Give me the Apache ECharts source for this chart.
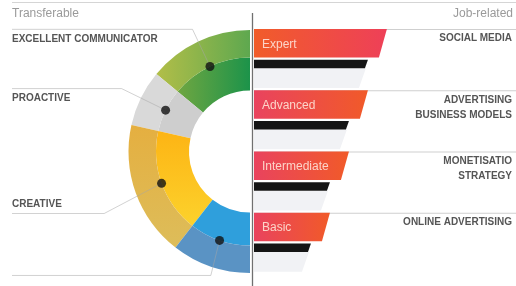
<!DOCTYPE html>
<html>
<head>
<meta charset="utf-8">
<script src="https://cdn.jsdelivr.net/npm/echarts@6/dist/echarts.min.js"></script>
<style>
  html, body { margin: 0; padding: 0; background: #fff; }
  #main { width: 516px; height: 286px; }
</style>
</head>
<body>
<div id="main"></div>
<script>
// 左侧：可迁移技能（半环）
var transferNames = ['EXCELLENT COMMUNICATOR', 'PROACTIVE', 'CREATIVE', ''];
var transferValues = [28, 15, 36, 21];

// 右侧：岗位技能等级
var levelNames = ['Expert', 'Advanced', 'Intermediate', 'Basic'];
var levelValues = [7, 6, 5, 4];
var shadowValues = [6, 5, 4, 3];
var jobNames = ['SOCIAL MEDIA', 'ADVERTISING\nBUSINESS MODELS', 'MONETISATIO\nSTRATEGY', 'ONLINE ADVERTISING'];

var FONT = '"Liberation Sans", Arial, sans-serif';
var CX = 250, CY = 151.5, R0 = 61, R1 = 94, R2 = 121.5;

function lin(x2, y2, c0, c1) {
  return { type: 'linear', x: 0, y: 0, x2: x2, y2: y2, colorStops: [{ offset: 0, color: c0 }, { offset: 1, color: c1 }] };
}

var innerColors = [
  lin(1, 0, '#6fa641', '#1c934a'),
  '#cecece',
  lin(0, 1, '#fdb414', '#fcd22c'),
  '#2f9fdc'
];
var outerColors = [
  lin(1, 0, '#b2be48', '#5ea84f'),
  '#d9d9d9',
  lin(0, 1, '#e5af40', '#ddbd5a'),
  '#5a93c4'
];
var levelFills = [
  lin(1, 0, '#f15c2a', '#ee4058'),
  lin(1, 0, '#e9435e', '#f15a29'),
  lin(1, 0, '#e9435e', '#f15a29'),
  lin(1, 0, '#e9435e', '#f15a29')
];

var total = transferValues.reduce(function (a, b) { return a + b; }, 0);

function ringData(colors) {
  var list = transferValues.map(function (v, i) {
    return { name: transferNames[i], value: v, itemStyle: { color: colors[i] } };
  });
  // 下半圆占位，不显示
  list.push({ name: 'gap', value: total, itemStyle: { color: 'transparent' }, label: { show: false }, labelLine: { show: false } });
  return list;
}

// 每段中间角度（0 = 正上方，逆时针）
var midAngles = [];
var acc = 0;
transferValues.forEach(function (v) {
  midAngles.push((acc + v / 2) / total * 180);
  acc += v;
});

// 标签线长度
var lineLens = [41, 49, 61, 27];
var labelData = ringData(['transparent', 'transparent', 'transparent', 'transparent']);
labelData.forEach(function (d, i) {
  if (i < transferValues.length) d.labelLine = { length: lineLens[i] };
});

// 圆点
var dotData = midAngles.map(function (a) { return [R1, a]; });

function renderLevel(params, api) {
  var i = api.value(0);
  var mid = api.coord([0, i]);
  var h = api.size([0, 1])[1];
  var x0 = mid[0];
  var top = mid[1] - h / 2;
  var xa = api.coord([api.value(1), i])[0];
  var xb = api.coord([api.value(2), i])[0];
  var cs = params.coordSys;
  var barB = top + h * 0.465;
  var blkT = top + h * 0.5, blkB = top + h * 0.64;
  var shB = top + h * 0.965;
  return {
    type: 'group',
    children: [
      { type: 'line', shape: { x1: x0, y1: top + 0.5, x2: cs.x + cs.width, y2: top + 0.5 }, style: { stroke: '#cfcfcf', lineWidth: 1 } },
      { type: 'polygon', shape: { points: [[x0, blkB], [xb - 2, blkB], [xb - 9, shB], [x0, shB]] }, style: { fill: '#f1f2f5' } },
      { type: 'polygon', shape: { points: [[x0, top], [xa, top], [xa - 8, barB], [x0, barB]] }, style: { fill: levelFills[i] } },
      { type: 'polygon', shape: { points: [[x0, blkT], [xb, blkT], [xb - 3, blkB], [x0, blkB]] }, style: { fill: '#151515' } },
      { type: 'text', style: { x: x0 + 8, y: (top + barB) / 2 + 1, text: levelNames[i], fill: '#fcd4c8', fontSize: 12, fontFamily: FONT, verticalAlign: 'middle' } },
      { type: 'text', style: { x: cs.x + cs.width - 4, y: top + 2, text: jobNames[i], align: 'right', verticalAlign: 'top', lineHeight: 15, fill: '#555', fontSize: 10, fontWeight: 'bold', fontFamily: FONT } }
    ]
  };
}

var chart = echarts.init(document.getElementById('main'));

chart.setOption({
  animation: false,
  title: [
    { text: 'Transferable', left: 12, top: 8, padding: 0, textStyle: { color: '#9a9a9a', fontSize: 12, fontWeight: 'normal', fontFamily: FONT } },
    { text: 'Job-related', right: 3, top: 8, padding: 0, textStyle: { color: '#9a9a9a', fontSize: 12, fontWeight: 'normal', fontFamily: FONT } }
  ],
  graphic: [
    { type: 'line', shape: { x1: 12, y1: 2.5, x2: 516, y2: 2.5 }, style: { stroke: '#d5d5d5', lineWidth: 1 }, z: 10 },
    { type: 'line', shape: { x1: 252.5, y1: 13, x2: 252.5, y2: 286 }, style: { stroke: '#707070', lineWidth: 1.3 }, z: 10 }
  ],
  polar: { center: [CX, CY], radius: R2 },
  angleAxis: { type: 'value', min: 0, max: 360, startAngle: 90, clockwise: false, show: false },
  radiusAxis: { type: 'value', min: 0, max: R2, show: false },
  grid: { left: 254, right: 0, top: 29, height: 245 },
  xAxis: { type: 'value', min: 0, max: 13.8, show: false },
  yAxis: { type: 'category', data: levelNames, inverse: true, show: false },
  series: [
    {
      type: 'pie', z: 2, silent: true, center: [CX, CY], radius: [R0, R1],
      startAngle: 90, clockwise: false, label: { show: false }, labelLine: { show: false },
      data: ringData(innerColors)
    },
    {
      type: 'pie', z: 2, silent: true, center: [CX, CY], radius: [R1, R2],
      startAngle: 90, clockwise: false, label: { show: false }, labelLine: { show: false },
      data: ringData(outerColors)
    },
    {
      type: 'pie', z: 4, silent: true, center: [CX, CY], radius: [0, R1],
      startAngle: 90, clockwise: false, avoidLabelOverlap: false,
      label: {
        show: true, position: 'outside', alignTo: 'edge', edgeDistance: 12,
        color: '#555', fontSize: 10, fontWeight: 'bold', fontFamily: FONT, lineHeight: 19,
        formatter: function (p) {
          // 上半部分文字在线下方，下半部分文字在线上方
          return midAngles[p.dataIndex] < 90 ? '\n' + p.name : (p.name || ' ');
        }
      },
      labelLine: { show: true, length: 40, length2: 0, smooth: false, lineStyle: { color: 'rgba(165,165,165,0.5)', width: 1 } },
      labelLayout: function (p) {
        var pts = p.labelLinePoints;
        if (!pts) return;
        var r = p.labelRect;
        if (pts[1][1] > pts[0][1]) {
          pts[1][1] = r.y + r.height;
          pts[2][1] = r.y + r.height;
        }
        pts[2][0] = r.x;
        return { labelLinePoints: pts };
      },
      data: labelData
    },
    {
      type: 'scatter', coordinateSystem: 'polar', z: 6, silent: true,
      symbolSize: 9, itemStyle: { color: '#111' },
      data: dotData
    },
    {
      type: 'custom', coordinateSystem: 'cartesian2d', silent: true,
      renderItem: renderLevel,
      encode: { x: [1, 2], y: 0 },
      data: levelNames.map(function (n, i) { return [i, levelValues[i], shadowValues[i]]; })
    }
  ]
});
</script>
</body>
</html>
